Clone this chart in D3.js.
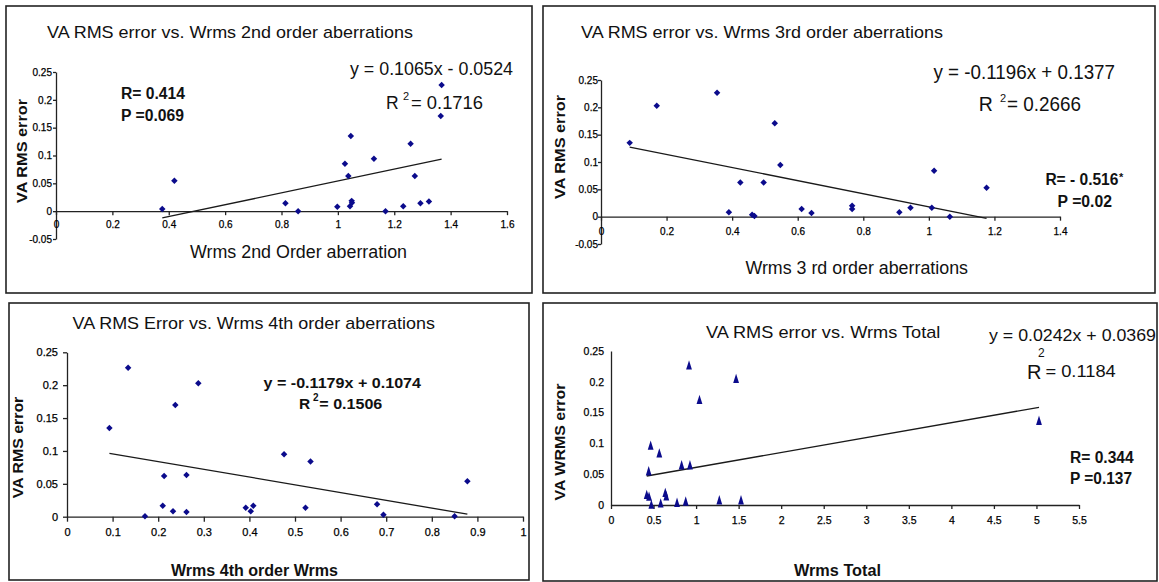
<!DOCTYPE html>
<html>
<head>
<meta charset="utf-8">
<script src="https://cdn.jsdelivr.net/npm/d3@7"></script>
<style>
  html, body { margin: 0; padding: 0; background: #fff; }
  svg { display: block; font-family: "Liberation Sans", Arial, sans-serif; }
</style>
</head>
<body>
<div id="chart"></div>
<script>
'use strict';

// ---- data ----
var wrms2nd = [0.377, 0.42, 1.368, 1.365, 1.046, 1.258, 1.128, 1.025, 1.037, 1.273, 0.814, 0.859, 0.998, 1.043, 1.049, 1.05, 1.169, 1.232, 1.293, 1.323];
var vaErr2nd = [0.004, 0.0545, 0.2266, 0.171, 0.135, 0.121, 0.094, 0.085, 0.063, 0.063, 0.0144, 0, 0.0078, 0.009, 0.0185, 0.015, 0, 0.009, 0.0144, 0.0174];

var wrms3rd = [0.0875, 0.17, 0.354, 0.53, 0.547, 0.425, 0.496, 0.39, 0.461, 0.468, 0.612, 0.642, 0.766, 0.766, 0.91, 0.944, 1.016, 1.009, 1.064, 1.176];
var vaErr3rd = [0.135, 0.203, 0.2266, 0.171, 0.0947, 0.0623, 0.0623, 0.008, 0.0037, 0.0013, 0.014, 0.0068, 0.02, 0.014, 0.008, 0.0165, 0.084, 0.0165, 0, 0.053];

var wrms4th = [0.093, 0.134, 0.2375, 0.288, 0.213, 0.262, 0.21, 0.2325, 0.262, 0.171, 0.392, 0.403, 0.4086, 0.476, 0.534, 0.523, 0.68, 0.694, 0.85, 0.878];
var vaErr4th = [0.135, 0.2266, 0.17, 0.203, 0.062, 0.0634, 0.0167, 0.0082, 0.0071, 0.0006, 0.0137, 0.0082, 0.0167, 0.095, 0.084, 0.0137, 0.0188, 0.003, 0.0006, 0.054];

var wrmsTotal = [0.917, 1.47, 1.04, 0.466, 0.568, 0.443, 0.83, 0.928, 0.42, 0.447, 0.638, 0.65, 0.474, 0.584, 0.776, 0.878, 1.273, 1.528, 5.03];
var vaErrTotal = [0.226, 0.204, 0.17, 0.0958, 0.083, 0.054, 0.0638, 0.0638, 0.0157, 0.013, 0.019, 0.0135, 0, 0.002, 0.003, 0.005, 0.007, 0.007, 0.136];

// trend lines [slope, intercept]
var trend2nd = [0.1065, -0.0524];
var trend3rd = [-0.1196, 0.1377];
var trend4th = [-0.1179, 0.1074];
var trendTotal = [0.0242, 0.0369];

// tick labels
var xTicks2nd = [0, 0.2, 0.4, 0.6, 0.8, 1, 1.2, 1.4, 1.6];
var xTicks3rd = [0, 0.2, 0.4, 0.6, 0.8, 1, 1.2, 1.4];
var xTicks4th = [0, 0.1, 0.2, 0.3, 0.4, 0.5, 0.6, 0.7, 0.8, 0.9, 1];
var xTicksTotal = [0, 0.5, 1, 1.5, 2, 2.5, 3, 3.5, 4, 4.5, 5, 5.5];
var yTicksTop = [-0.05, 0, 0.05, 0.1, 0.15, 0.2, 0.25];
var yTicksBottom = [0, 0.05, 0.1, 0.15, 0.2, 0.25];

var width = 1159, height = 582;
var navy = '#0b0b8c';

var svg = d3.select('#chart').append('svg')
            .attr('width', width).attr('height', height);

// narrow excel-like triangle
var narrowTriangle = {
  draw: function(ctx, size){
    var h = Math.sqrt(size) * 1.25, w = h * 0.62;
    ctx.moveTo(0, -h * 0.6);
    ctx.lineTo(w / 2, h * 0.4);
    ctx.lineTo(-w / 2, h * 0.4);
    ctx.closePath();
  }
};

function addText(g, t){
  var el = g.append('text')
            .text(t.s)
            .attr('font-size', t.size + 'px')
            .attr('font-weight', t.bold ? 'bold' : 'normal')
            .attr('fill', '#111');
  if (t.rot) {
    el.attr('text-anchor', 'middle')
      .attr('transform', 'translate(' + t.x + ',' + t.y + ') rotate(-90)');
  } else {
    el.attr('x', t.x).attr('y', t.y);
  }
  if (t.len) {
    el.attr('textLength', t.len).attr('lengthAdjust', 'spacingAndGlyphs');
  }
}

function drawPanel(p){
  var g = svg.append('g');

  g.append('rect')
   .attr('x', p.frame[0]).attr('y', p.frame[1])
   .attr('width', p.frame[2] - p.frame[0]).attr('height', p.frame[3] - p.frame[1])
   .attr('fill', 'none').attr('stroke', '#222').attr('stroke-width', 1.6);

  var x = d3.scaleLinear().domain(p.xDomain).range(p.xRange);
  var y = d3.scaleLinear().domain(p.yDomain).range(p.yRange);
  var fmt = function(d){ return String(d); };

  var yAxis = g.append('g')
               .attr('transform', 'translate(' + x(0) + ',0)')
               .call(d3.axisLeft(y).tickValues(p.yTicks).tickFormat(fmt)
                       .tickSize(p.yTick[0]).tickPadding(p.yTick[1]).tickSizeOuter(0));
  var xAxis = g.append('g')
               .attr('transform', 'translate(0,' + y(0) + ')')
               .call(d3.axisBottom(x).tickValues(p.xTicks).tickFormat(fmt)
                       .tickSize(p.xTick[0]).tickPadding(p.xTick[1]).tickSizeOuter(0));

  [xAxis, yAxis].forEach(function(a){
    a.selectAll('path, line').attr('stroke', '#222').attr('stroke-width', 1.3);
    a.selectAll('text')
     .attr('font-family', '"Liberation Sans", Arial, sans-serif')
     .attr('font-size', p.tickFont + 'px')
     .attr('fill', '#000')
     .attr('stroke', '#000').attr('stroke-width', 0.25);
  });

  // trend line
  var ext = d3.extent(p.xs);
  var line = d3.line()
               .x(function(d){ return x(d); })
               .y(function(d){ return y(p.trend[0] * d + p.trend[1]); });
  g.append('path')
   .datum(ext)
   .attr('d', line)
   .attr('fill', 'none').attr('stroke', '#1a1a1a').attr('stroke-width', 1.3);

  // points
  var pts = p.xs.map(function(v, i){ return [v, p.ys[i]]; });
  var sym = p.triangle ? d3.symbol().type(narrowTriangle).size(56)
                       : d3.symbol().type(d3.symbolSquare).size(21);
  g.selectAll('.pt').data(pts).enter().append('path')
   .attr('class', 'pt')
   .attr('d', sym)
   .attr('transform', function(d){
     return 'translate(' + x(d[0]) + ',' + y(d[1]) + ')' + (p.triangle ? '' : ' rotate(45)');
   })
   .attr('fill', navy);

  p.texts.forEach(function(t){ addText(g, t); });
}

drawPanel({
  frame: [6, 6, 532, 293],
  xDomain: [0, 1.6], xRange: [56, 507],
  yDomain: [-0.05, 0.25], yRange: [239, 72],
  xTicks: xTicks2nd, yTicks: yTicksTop,
  xTick: [4, 6], yTick: [3, 1], tickFont: 10,
  xs: wrms2nd, ys: vaErr2nd, trend: trend2nd,
  texts: [
    {s: 'VA RMS error vs. Wrms 2nd order aberrations', x: 47, y: 38, size: 17, len: 366},
    {s: 'y = 0.1065x - 0.0524', x: 350, y: 75, size: 17.5, len: 163},
    {s: 'R', x: 386, y: 109, size: 17.5},
    {s: '2', x: 403, y: 100, size: 11},
    {s: '= 0.1716', x: 411, y: 109, size: 17.5, len: 72},
    {s: 'R= 0.414', x: 121, y: 99.3, size: 16, bold: true, len: 64},
    {s: 'P =0.069', x: 121, y: 120.7, size: 16, bold: true, len: 63},
    {s: 'VA RMS error', x: 27, y: 151, size: 15, bold: true, len: 104, rot: true},
    {s: 'Wrms 2nd Order aberration', x: 190, y: 258, size: 17.5, len: 217}
  ]
});

drawPanel({
  frame: [543, 6, 1155, 293],
  xDomain: [0, 1.4], xRange: [601, 1060],
  yDomain: [-0.05, 0.25], yRange: [244, 80],
  xTicks: xTicks3rd, yTicks: yTicksTop,
  xTick: [4, 7.5], yTick: [3, 0], tickFont: 10,
  xs: wrms3rd, ys: vaErr3rd, trend: trend3rd,
  texts: [
    {s: 'VA RMS error vs. Wrms 3rd order aberrations', x: 581, y: 38.3, size: 17, len: 362},
    {s: 'y = -0.1196x + 0.1377', x: 933.5, y: 79, size: 19.5, len: 181.5},
    {s: 'R', x: 978.7, y: 111, size: 19.5},
    {s: '2', x: 1000, y: 102, size: 11},
    {s: '= 0.2666', x: 1007, y: 111, size: 19.5, len: 74},
    {s: 'R= - 0.516', x: 1045.4, y: 185.3, size: 16, bold: true, len: 73},
    {s: '*', x: 1119, y: 181, size: 11, bold: true},
    {s: 'P =0.02', x: 1057.6, y: 206.7, size: 16, bold: true, len: 54.4},
    {s: 'VA RMS error', x: 565, y: 147, size: 15, bold: true, len: 104, rot: true},
    {s: 'Wrms 3 rd order aberrations', x: 745.4, y: 274, size: 17.5, len: 222.6}
  ]
});

drawPanel({
  frame: [9, 303, 529, 580],
  xDomain: [0, 1], xRange: [67, 523],
  yDomain: [0, 0.25], yRange: [516.7, 352.3],
  xTicks: xTicks4th, yTicks: yTicksBottom,
  xTick: [5, 6.6], yTick: [4, 5], tickFont: 11,
  xs: wrms4th, ys: vaErr4th, trend: trend4th,
  texts: [
    {s: 'VA RMS Error vs. Wrms 4th order aberrations', x: 72.6, y: 329, size: 17, len: 362.4},
    {s: 'y = -0.1179x + 0.1074', x: 263.5, y: 387.5, size: 15.5, bold: true, len: 157.5},
    {s: 'R', x: 299, y: 409, size: 15.5, bold: true},
    {s: '2', x: 313, y: 401, size: 10, bold: true},
    {s: '= 0.1506', x: 319.3, y: 409, size: 15.5, bold: true, len: 63},
    {s: 'VA RMS error', x: 23, y: 447.5, size: 15, bold: true, len: 101.6, rot: true},
    {s: 'Wrms 4th order Wrms', x: 171, y: 576, size: 16, bold: true, len: 167}
  ]
});

drawPanel({
  frame: [543, 303, 1157, 581],
  xDomain: [0, 5.5], xRange: [611, 1079],
  yDomain: [0, 0.25], yRange: [505, 351],
  xTicks: xTicksTotal, yTicks: yTicksBottom,
  xTick: [4, 8], yTick: [0, 7], tickFont: 10.5,
  xs: wrmsTotal, ys: vaErrTotal, trend: trendTotal, triangle: true,
  texts: [
    {s: 'VA RMS error vs. Wrms Total', x: 706, y: 338.3, size: 17, len: 234.4},
    {s: 'y = 0.0242x + 0.0369', x: 989, y: 341, size: 17, len: 167},
    {s: '2', x: 1038, y: 357, size: 12},
    {s: 'R', x: 1027, y: 379, size: 20},
    {s: '= 0.1184', x: 1045.4, y: 377, size: 17, len: 70.4},
    {s: 'R= 0.344', x: 1070, y: 462.7, size: 16, bold: true, len: 63.7},
    {s: 'P =0.137', x: 1070, y: 484, size: 16, bold: true, len: 62},
    {s: 'VA WRMS error', x: 565, y: 442, size: 15, bold: true, len: 117, rot: true},
    {s: 'Wrms Total', x: 794, y: 576, size: 16, bold: true, len: 87}
  ]
});
</script>
</body>
</html>
